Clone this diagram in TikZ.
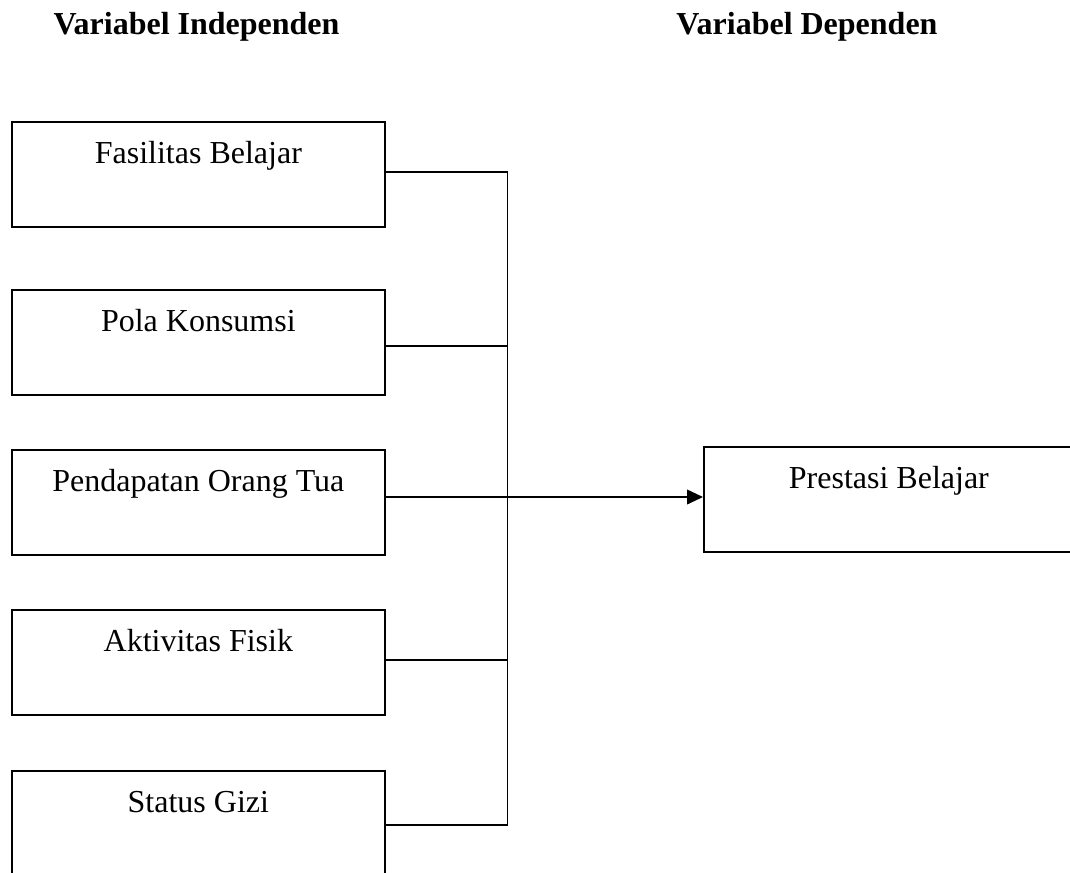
\documentclass[tikz,border=0pt]{standalone}
\usepackage{fontspec}
\setmainfont{Liberation Serif}
\usetikzlibrary{arrows.meta}
\begin{document}
\begin{tikzpicture}[x=0.75pt,y=-0.75pt,
		varbox/.style={draw,line width=1.3pt,rectangle,minimum width=279.75pt,minimum height=78.75pt,inner sep=0pt,anchor=north west},
		varline/.style={line width=1.3pt},
		vartext/.style={anchor=base,inner sep=0pt}]
		\newcommand{\myfontbox}[1]{
			\fontsize{24}{28}\selectfont{#1}
		}\newcommand{\myfonttitle}[1]{
			\fontsize{24}{28}\selectfont\bfseries{#1}
		}%Page
		\useasboundingbox (0,0) rectangle (1070,872);
		\clip (0,0) rectangle (1070,872);
		%Titles
		\node [vartext] (titleIndep) at (196.5,34) {\myfonttitle{Variabel Independen}};
		\node [vartext] (titleDep) at (807,34) {\myfonttitle{Variabel Dependen}};
		%Boxes of the independent variables
		\node [varbox] (box1) at (11,121) {};
		\node [varbox] (box2) at (11,289) {};
		\node [varbox] (box3) at (11,449) {};
		\node [varbox] (box4) at (11,609) {};
		\node [varbox] (box5) at (11,770) {};
		%Box of the dependent variable
		\node [varbox,minimum width=277.5pt] (boxDep) at (703,446) {};
		%Texts in the boxes
		\node [vartext,yshift=-31.5pt] (text1) at (box1.north) {\myfontbox{Fasilitas Belajar}};
		\node [vartext,yshift=-31.5pt] (text2) at (box2.north) {\myfontbox{Pola Konsumsi}};
		\node [vartext,yshift=-31.5pt] (text3) at (box3.north) {\myfontbox{Pendapatan Orang Tua}};
		\node [vartext,yshift=-31.5pt] (text4) at (box4.north) {\myfontbox{Aktivitas Fisik}};
		\node [vartext,yshift=-31.5pt] (text5) at (box5.north) {\myfontbox{Status Gizi}};
		\node [vartext,yshift=-31.5pt] (textDep) at (boxDep.north) {\myfontbox{Prestasi Belajar}};
		%Points on the collecting line
		\coordinate (bus1) at (507.5,172);
		\coordinate (bus2) at (507.5,346);
		\coordinate (bus3) at (507.5,497);
		\coordinate (bus4) at (507.5,660);
		\coordinate (bus5) at (507.5,825);
		%Collecting line
		\draw [varline] (bus1) -- (bus5);
		%Lines from the boxes to the collecting line
		\draw [varline] (box1.east |- bus1) -- (bus1);
		\draw [varline] (box2.east |- bus2) -- (bus2);
		\draw [varline] (box4.east |- bus4) -- (bus4);
		\draw [varline] (box5.east |- bus5) -- (bus5);
		%Arrow to the dependent variable
		\draw [varline,-{Triangle[length=12pt,width=11pt]}] (box3.east |- bus3) -- (boxDep.west |- bus3);
		\end{tikzpicture}
\end{document}
